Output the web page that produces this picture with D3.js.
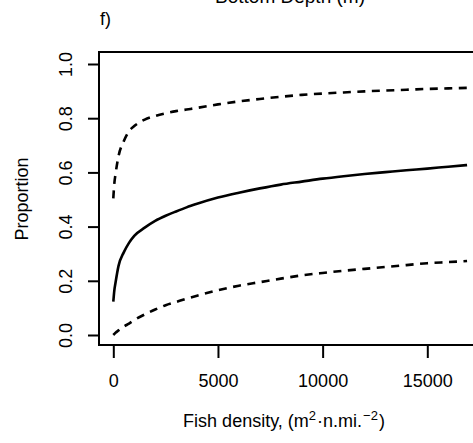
<!DOCTYPE html>
<html>
<head>
<meta charset="utf-8">
<script src="https://cdn.jsdelivr.net/npm/d3@7"></script>
<style>
  html, body { margin: 0; padding: 0; background: #fff; }
  svg { display: block; }
  text { font-family: "Liberation Sans", Arial, sans-serif; fill: #000; }
</style>
</head>
<body>
<svg id="chart" width="473" height="443"></svg>
<script>
// ---- data ----
const density = [0, 50, 100, 250, 500, 750, 1000, 1500, 2000, 2500, 3000, 3500, 4000, 5000, 6000, 7000, 8000, 9000, 10000, 11000, 12000, 13000, 14000, 15000, 16000, 16900];
const proportionFit = [0.123, 0.165, 0.19, 0.255, 0.305, 0.34, 0.366, 0.396, 0.421, 0.440, 0.456, 0.471, 0.484, 0.507, 0.525, 0.541, 0.555, 0.566, 0.577, 0.586, 0.594, 0.601, 0.608, 0.614, 0.621, 0.627];
const proportionUpper = [0.504, 0.56, 0.59, 0.66, 0.715, 0.752, 0.771, 0.795, 0.808, 0.818, 0.826, 0.832, 0.838, 0.851, 0.862, 0.871, 0.879, 0.886, 0.891, 0.895, 0.899, 0.902, 0.905, 0.908, 0.910, 0.912];
const proportionLower = [0.0, 0.004, 0.008, 0.017, 0.031, 0.042, 0.055, 0.076, 0.094, 0.110, 0.122, 0.134, 0.145, 0.165, 0.182, 0.195, 0.208, 0.220, 0.229, 0.237, 0.244, 0.251, 0.258, 0.265, 0.269, 0.273];
const xTicks = [0, 5000, 10000, 15000];
const yTicks = [0.0, 0.2, 0.4, 0.6, 0.8, 1.0];

// ---- layout ----
const svg = d3.select("#chart");
const box = { left: 99, top: 52, right: 540, bottom: 345 };

const x = d3.scaleLinear().domain([0, 15000]).range([113.3, 427.3]);
const y = d3.scaleLinear().domain([0, 1]).range([335, 64]);

// clip
svg.append("defs").append("clipPath").attr("id", "clip")
  .append("rect").attr("x", box.left).attr("y", box.top)
  .attr("width", box.right - box.left).attr("height", box.bottom - box.top);

const line = d3.line().x(d => x(d[0])).y(d => y(d[1])).curve(d3.curveMonotoneX);
const g = svg.append("g").attr("clip-path", "url(#clip)");

const series = [
  { vals: proportionUpper, dash: "8,6.5" },
  { vals: proportionFit, dash: null },
  { vals: proportionLower, dash: "8,6.5" }
];
series.forEach(s => {
  g.append("path")
    .datum(density.map((d, i) => [d, s.vals[i]]))
    .attr("d", line)
    .attr("fill", "none")
    .attr("stroke", "#000")
    .attr("stroke-width", 2.6)
    .attr("stroke-dasharray", s.dash);
});

// box
svg.append("rect")
  .attr("x", box.left).attr("y", box.top)
  .attr("width", box.right - box.left).attr("height", box.bottom - box.top)
  .attr("fill", "none").attr("stroke", "#000").attr("stroke-width", 2);

// y axis
const yAxis = d3.axisLeft(y).tickValues(yTicks).tickFormat(d3.format(".1f")).tickSize(11).tickPadding(0);
const ya = svg.append("g").attr("transform", `translate(${box.left},0)`).call(yAxis);
ya.select(".domain").remove();
ya.selectAll(".tick line").attr("stroke", "#000").attr("stroke-width", 2);
ya.selectAll(".tick text")
  .attr("x", 0).attr("y", 0).attr("dx", 0).attr("dy", 0)
  .attr("transform", d => `translate(-27,0) rotate(-90)`)
  .attr("text-anchor", "middle")
  .style("font-size", "18px");

// x axis
const xAxis = d3.axisBottom(x).tickValues(xTicks).tickFormat(d3.format("d")).tickSize(12).tickPadding(0);
const xa = svg.append("g").attr("transform", `translate(0,${box.bottom + 1})`).call(xAxis);
xa.select(".domain").remove();
xa.selectAll(".tick line").attr("stroke", "#000").attr("stroke-width", 2);
xa.selectAll(".tick text").attr("y", 41).attr("dy", 0).style("font-size", "18px");

// labels
svg.append("text")
  .attr("transform", "translate(28,199) rotate(-90)")
  .attr("text-anchor", "middle")
  .style("font-size", "18px")
  .text("Proportion");

const xl = svg.append("text")
  .attr("x", 284).attr("y", 427)
  .attr("text-anchor", "middle")
  .style("font-size", "18px");
xl.append("tspan").text("Fish density, (m");
xl.append("tspan").attr("dy", -7).style("font-size", "13px").text("2");
xl.append("tspan").attr("dy", 7).attr("dx", 1).text("\u00B7n.mi.");
xl.append("tspan").attr("dy", -7).attr("dx", 1).style("font-size", "13px").text("\u22122");
xl.append("tspan").attr("dy", 7).attr("dx", 1).text(")");

svg.append("text")
  .attr("x", 100).attr("y", 25)
  .style("font-size", "18px")
  .text("f)");

svg.append("text")
  .attr("x", 290).attr("y", 3)
  .attr("text-anchor", "middle")
  .style("font-size", "19px")
  .text("Bottom Depth (m)");
</script>
</body>
</html>
